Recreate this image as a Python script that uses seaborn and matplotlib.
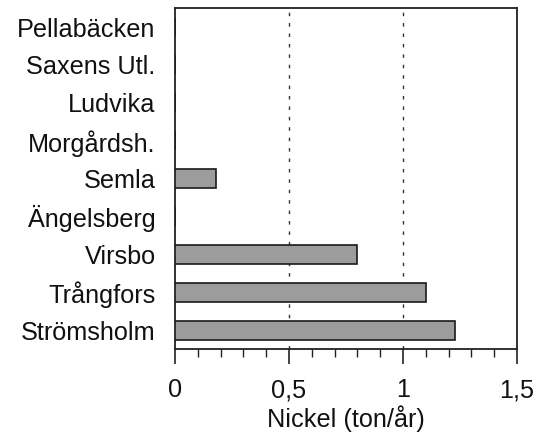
import matplotlib
matplotlib.use("Agg")
import matplotlib.pyplot as plt
from matplotlib.ticker import MultipleLocator
import seaborn as sns
import pandas as pd

# Nickel transport per station (ton/år)
stations = ["Pellabäcken", "Saxens Utl.", "Ludvika", "Morgårdsh.", "Semla",
            "Ängelsberg", "Virsbo", "Trångfors", "Strömsholm"]
nickel = [0.0, 0.0, 0.0, 0.0, 0.18, 0.0, 0.8, 1.1, 1.23]

xticks = [0, 0.5, 1, 1.5]
xtick_labels = ["0", "0,5", "1", "1,5"]

sns.set_theme(style="white")
plt.rcParams["font.family"] = ["Liberation Sans", "DejaVu Sans"]

df = pd.DataFrame({"station": stations, "nickel": nickel})

fig = plt.figure(figsize=(5.34, 4.36), dpi=100)
ax = fig.add_axes([0.3277, 0.1995, 0.6404, 0.782])

sns.barplot(data=df, x="nickel", y="station", order=stations, orient="h",
            color="#9c9c9c", saturation=1, width=0.5,
            edgecolor="#1a1a1a", linewidth=1.2, ax=ax, zorder=3)

for v in [0.5, 1.0]:
    ax.axvline(v, color="#333333", lw=1.0, ls=(0, (2.5, 5)), zorder=1)

ax.set_xlim(0, 1.5)
ax.set_xticks(xticks)
ax.set_xticklabels(xtick_labels)
ax.xaxis.set_minor_locator(MultipleLocator(0.1))
ax.tick_params(axis="x", which="major", direction="out", length=11,
               width=1.2, color="#222222", labelsize=18.2, pad=10,
               bottom=True)
ax.tick_params(axis="x", which="minor", direction="out", length=5.5,
               width=1.0, color="#222222", bottom=True)
ax.tick_params(axis="y", length=0, labelsize=18.2, pad=14)

ax.set_xlabel("Nickel (ton/år)", fontsize=18.2, labelpad=2, color="#111111")
ax.set_ylabel("")
for lbl in ax.get_xticklabels() + ax.get_yticklabels():
    lbl.set_color("#111111")

for side in ["left", "right", "top", "bottom"]:
    ax.spines[side].set_visible(True)
    ax.spines[side].set_color("#222222")
    ax.spines[side].set_linewidth(1.3)

fig.savefig("out.png", dpi=100, facecolor="white")
